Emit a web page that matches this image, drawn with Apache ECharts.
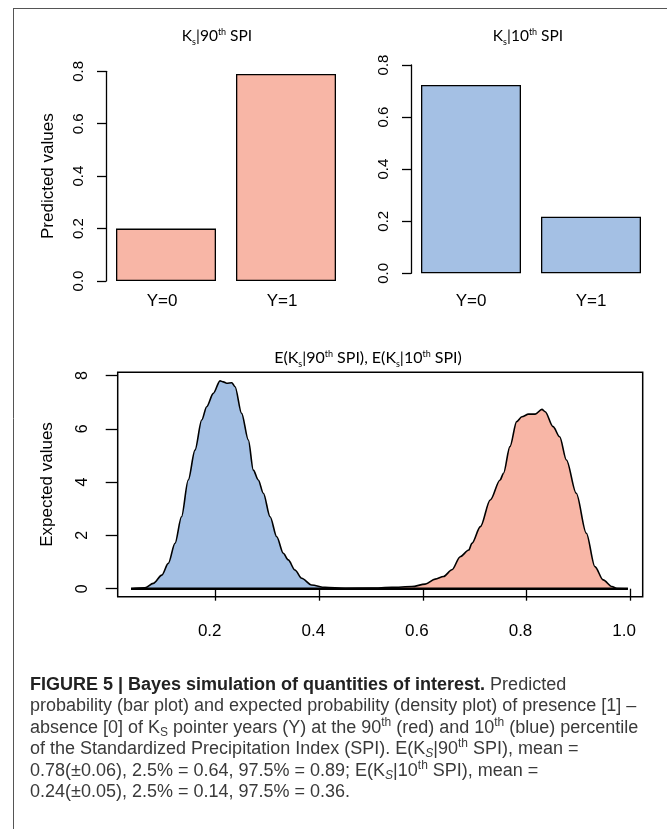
<!DOCTYPE html>
<html><head><meta charset="utf-8">
<script src="https://cdn.jsdelivr.net/npm/echarts@6/dist/echarts.min.js"></script>
<style>html,body{margin:0;padding:0;background:#fff}#c{width:667px;height:829px}</style>
</head><body><div id="c"></div>
<script>
// ---- data ----
const barCategories = ['Y=0', 'Y=1'];
const bar90Values = [0.2, 0.79];
const bar10Values = [0.723, 0.217];
const barTicks = [0, 0.2, 0.4, 0.6, 0.8];
const densityXTicks = [0.2, 0.4, 0.6, 0.8, 1.0];
const densityYTicks = [0, 2, 4, 6, 8];
const blueX = [0.0365, 0.0635, 0.0795, 0.096, 0.1085, 0.1214, 0.134, 0.147, 0.160, 0.173, 0.1826, 0.1954, 0.2083, 0.2147, 0.2212, 0.231, 0.2373, 0.250, 0.263, 0.2726, 0.2822, 0.292, 0.305, 0.3178, 0.3305, 0.340, 0.353, 0.366, 0.385, 0.411, 0.45, 0.5, 0.55, 0.6];
const blueY = [0, 0.03, 0.2, 0.51, 0.95, 1.70, 2.70, 4.08, 5.20, 6.33, 6.83, 7.33, 7.80, 7.76, 7.71, 7.73, 7.58, 6.58, 5.58, 4.45, 4.08, 3.58, 2.70, 1.95, 1.33, 1.08, 0.70, 0.39, 0.14, 0.05, 0.01, 0.0, 0.0, 0];
const redX = [0.42, 0.5, 0.54, 0.5788, 0.6044, 0.6237, 0.640, 0.656, 0.672, 0.6885, 0.6946, 0.711, 0.730, 0.749, 0.7556, 0.768, 0.781, 0.791, 0.804, 0.8168, 0.8297, 0.836, 0.8513, 0.864, 0.877, 0.896, 0.9155, 0.932, 0.948, 0.9649, 0.9746, 0.9958];
const redY = [0, 0.02, 0.05, 0.08, 0.17, 0.36, 0.46, 0.71, 1.2, 1.45, 1.70, 2.33, 3.33, 4.08, 4.33, 5.33, 6.27, 6.45, 6.55, 6.55, 6.73, 6.64, 6.08, 5.7, 4.83, 3.58, 2.08, 0.83, 0.33, 0.08, 0.01, 0];
const baselineX = [0.0365, 0.9958];

const FONT = 'Liberation Sans, Arial, sans-serif';
const TFONT = 'Lato, Open Sans, sans-serif';
const BLUE = '#A4C0E4', RED = '#F8B6A6';

const chart = echarts.init(document.getElementById('c'), null, {renderer: 'canvas'});

function barY(grid, showName) {
  return {
    type: 'value', gridIndex: grid, min: 0, max: 0.8, interval: 0.2,
    axisLine: {show: true, lineStyle: {color: '#000', width: 1.3}},
    axisTick: {show: true, length: 9, lineStyle: {color: '#000', width: 1.3}},
    axisLabel: {rotate: 90, margin: 20, fontSize: 15, color: '#000', fontFamily: FONT, formatter: v => v.toFixed(1)},
    splitLine: {show: false},
    name: showName ? 'Predicted values' : '', nameLocation: 'middle', nameGap: 49,
    nameTextStyle: {fontSize: 17, color: '#000', fontFamily: FONT}
  };
}
function barX(grid, margin, pad) {
  return {
    type: 'category', gridIndex: grid, data: barCategories,
    axisLine: {show: false}, axisTick: {show: false},
    axisLabel: {margin: margin, fontSize: 17, color: '#000', fontFamily: FONT, padding: pad}
  };
}
function titleRich(size) {
  return {
    k: {fontSize: size, fontFamily: TFONT, fill: '#000'},
    sub: {fontSize: 9, fontFamily: TFONT, fill: '#000', padding: [13, 0, 0, 0]},
    sup: {fontSize: 9, fontFamily: TFONT, fill: '#000', padding: [0, 0, 7, 0]}
  };
}
const capRich = {
  b: {fontSize: 18, fontWeight: 'bold', fontFamily: FONT, fill: '#222'},
  n: {fontSize: 18, fontFamily: FONT, fill: '#3a3a3a'},
  sup: {fontSize: 12, fontFamily: FONT, fill: '#3a3a3a', padding: [0, 0, 11, 0]},
  sub: {fontSize: 12, fontFamily: FONT, fill: '#3a3a3a', padding: [9, 0, 0, 0]},
  subi: {fontSize: 12, fontStyle: 'italic', fontFamily: FONT, fill: '#3a3a3a', padding: [9, 0, 0, 0]}
};
const capLines = [
  '{b|FIGURE 5 | Bayes simulation of quantities of interest.}{n| Predicted}',
  '{n|probability (bar plot) and expected probability (density plot) of presence [1] –}',
  '{n|absence [0] of K}{sub|S}{n| pointer years (Y) at the 90}{sup|th}{n| (red) and 10}{sup|th}{n| (blue) percentile}',
  '{n|of the Standardized Precipitation Index (SPI). E(K}{subi|S}{n||90}{sup|th}{n| SPI), mean =}',
  '{n|0.78(±0.06), 2.5% = 0.64, 97.5% = 0.89; E(K}{subi|S}{n||10}{sup|th}{n| SPI), mean =}',
  '{n|0.24(±0.05), 2.5% = 0.14, 97.5% = 0.36.}'
];
const capY = [685, 706.5, 728, 749.5, 771, 792.5];

const graphics = [
  {type: 'line', shape: {x1: 13.5, y1: 8, x2: 13.5, y2: 829}, style: {stroke: '#555', lineWidth: 1}},
  {type: 'line', shape: {x1: 13, y1: 8.5, x2: 667, y2: 8.5}, style: {stroke: '#555', lineWidth: 1}},
  {type: 'text', x: 217, y: 36, style: {text: '{k|K}{sub|s}{k||90}{sup|th}{k| SPI}', rich: titleRich(15.5), align: 'center', verticalAlign: 'middle'}},
  {type: 'text', x: 528, y: 36, style: {text: '{k|K}{sub|s}{k||10}{sup|th}{k| SPI}', rich: titleRich(15.5), align: 'center', verticalAlign: 'middle'}},
  {type: 'text', x: 368, y: 358, style: {text: '{k|E(K}{sub|s}{k||90}{sup|th}{k| SPI), E(K}{sub|s}{k||10}{sup|th}{k| SPI)}', rich: titleRich(16), align: 'center', verticalAlign: 'middle'}}
];
capLines.forEach((t, i) => graphics.push({type: 'text', x: 30, y: capY[i], style: {text: t, rich: capRich, align: 'left', verticalAlign: 'middle'}}));

const option = {
  animation: false,
  backgroundColor: '#fff',
  grid: [
    {left: 106, top: 71.3, width: 240, height: 209.7},
    {left: 411, top: 65, width: 240, height: 208.3},
    {left: 117.7, top: 372.3, width: 525, height: 224.4, show: true, borderColor: '#000', borderWidth: 1.5, backgroundColor: 'transparent'}
  ],
  xAxis: [
    barX(0, 12, [0, 8, 0, 0]),
    barX(1, 20, 0),
    {
      type: 'value', gridIndex: 2, min: 0.0108, max: 1.0243,
      axisLine: {show: false},
      axisTick: {show: true, length: 12, customValues: densityXTicks, lineStyle: {color: '#000', width: 1.3}},
      axisLabel: {customValues: densityXTicks, margin: 26, fontSize: 17, color: '#000', fontFamily: FONT, padding: [0, 12, 0, 0], formatter: v => v.toFixed(1)},
      splitLine: {show: false}
    }
  ],
  yAxis: [
    barY(0, true),
    barY(1, false),
    {
      type: 'value', gridIndex: 2, min: -0.3, max: 8.12,
      axisLine: {show: false},
      axisTick: {show: true, length: 12, customValues: densityYTicks, lineStyle: {color: '#000', width: 1.3}},
      axisLabel: {customValues: densityYTicks, rotate: 90, margin: 27, fontSize: 16, color: '#000', fontFamily: FONT},
      splitLine: {show: false},
      name: 'Expected values', nameLocation: 'middle', nameGap: 62,
      nameTextStyle: {fontSize: 17, color: '#000', fontFamily: FONT}
    }
  ],
  series: [
    {type: 'bar', xAxisIndex: 0, yAxisIndex: 0, data: bar90Values, barWidth: 100,
     itemStyle: {color: RED, borderColor: '#000', borderWidth: 1.3}},
    {type: 'bar', xAxisIndex: 1, yAxisIndex: 1, data: bar10Values, barWidth: 100,
     itemStyle: {color: BLUE, borderColor: '#000', borderWidth: 1.3}},
    {type: 'line', xAxisIndex: 2, yAxisIndex: 2, data: blueX.map((x, i) => [x, blueY[i]]),
     symbol: 'none', smooth: 0.3, smoothMonotone: 'x',
     lineStyle: {color: '#000', width: 1.6}, areaStyle: {color: BLUE, opacity: 1}},
    {type: 'line', xAxisIndex: 2, yAxisIndex: 2, data: redX.map((x, i) => [x, redY[i]]),
     symbol: 'none', smooth: 0.3, smoothMonotone: 'x',
     lineStyle: {color: '#000', width: 1.6}, areaStyle: {color: RED, opacity: 1}},
    {type: 'line', xAxisIndex: 2, yAxisIndex: 2, data: baselineX.map(x => [x, 0]),
     symbol: 'none', lineStyle: {color: '#000', width: 2.6}}
  ],
  graphic: graphics
};
chart.setOption(option);
</script>
</body></html>
